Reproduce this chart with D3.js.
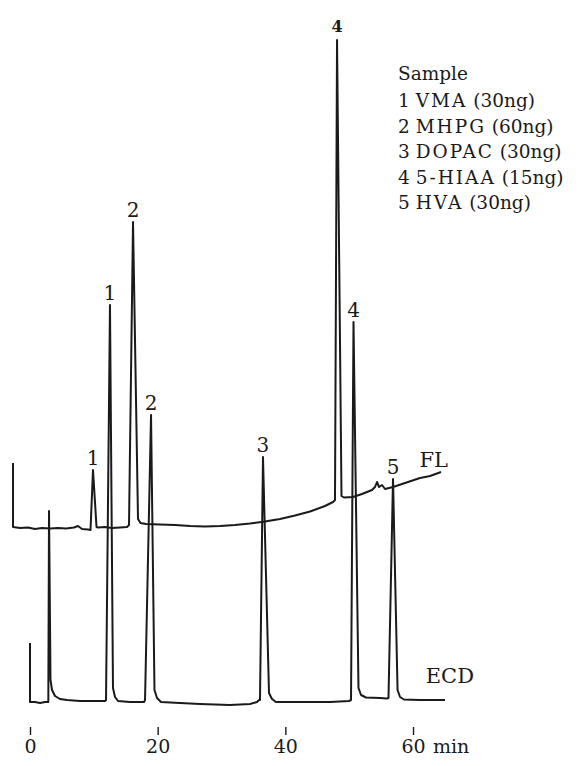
<!DOCTYPE html>
<html>
<head>
<meta charset="utf-8">
<script src="https://cdn.jsdelivr.net/npm/d3@7"></script>
<style>
  html, body { margin: 0; padding: 0; background: #fff; }
  svg { display: block; }
  text { font-family: "DejaVu Serif", "Liberation Serif", serif; fill: #1a1a1a; }
</style>
</head>
<body>
<svg id="chart" width="580" height="766"></svg>
<script>
// ---- Data (time in min, detector signal in arbitrary units) ----
const timeTicks = [0, 20, 40, 60];
const timeUnit = "min";

const ecdTime   = [0, 0, 0.78, 1.57, 2.35, 2.82, 2.87, 2.98, 3.21, 3.45, 3.92, 4.70, 5.80, 7.83, 10.18, 11.75,
                   11.91, 12.53, 13.00, 13.32, 13.79, 15.67, 17.86,
                   18.02, 18.96, 19.50, 19.90, 20.52, 23.50, 26.63, 31.33, 34.47, 35.56, 35.88,
                   36.03, 36.50, 37.44, 37.91, 38.54, 42.30, 47.00, 49.98,
                   50.29, 50.68, 51.46, 51.86, 52.64, 54.83, 55.93,
                   56.16, 56.87, 57.58, 57.97, 58.59, 61.10, 65.02];
const ecdSignal = [5.9, 0, 0, -0.1, 0, 0, 0, 19.1, 2.2, 1.2, 0.6, 0.3, 0.2, 0.1, 0.1, 0.1,
                   0.2, 39.7, 1.4, 0.5, 0.1, 0, 0,
                   0.2, 28.7, 1.2, 0.4, 0, -0.1, -0.2, -0.3, -0.2, 0, 0.2,
                   0.2, 24.5, 0.9, 0.3, 0, 0, 0, 0.1,
                   0.2, 38.0, 1.4, 0.7, 0.45, 0.4, 0.35,
                   0.4, 22.3, 1.2, 0.5, 0.25, 0.2, 0.2];

const flTime   = [-2.66, -2.66, -1.57, -0.31, 0.78, 1.88, 3.13, 4.39, 5.64, 6.89, 7.52, 8.15, 9.09,
                  9.48, 9.87, 10.42, 10.65, 11.75, 12.85, 14.10, 15.20,
                  15.51, 16.14, 16.92, 17.31, 18.17, 20.37, 22.72, 25.07, 27.42, 29.77, 32.12,
                  34.47, 36.82, 39.17, 41.52, 43.87, 46.22, 47.47,
                  47.78, 48.10, 48.80, 49.19, 50.60, 52.01, 53.58, 54.05, 54.36, 54.68, 55.15,
                  55.62, 56.87, 58.75, 61.10, 62.67, 64.39];
const flSignal = [23.9, 17.5, 17.4, 17.45, 17.3, 17.4, 17.35, 17.4, 17.35, 17.45, 17.6, 17.3, 17.25,
                  17.2, 23.2, 17.5, 17.45, 17.5, 17.4, 17.45, 17.5,
                  17.7, 48.0, 18.3, 17.9, 17.8, 17.75, 17.7, 17.6, 17.55, 17.6, 17.7,
                  17.85, 18.05, 18.3, 18.65, 19.05, 19.6, 20.0,
                  20.2, 66.2, 20.6, 20.45, 20.5, 20.8, 21.2, 21.5, 22.0, 21.5, 21.7,
                  21.3, 21.5, 21.9, 22.4, 22.6, 23.0];

// peak annotations: trace, peak number, apex time, apex signal
const peakTrace  = ["FL", "ECD", "FL", "ECD", "ECD", "FL", "ECD", "ECD"];
const peakNumber = ["1", "1", "2", "2", "3", "4", "4", "5"];
const peakTime   = [9.87, 12.53, 16.14, 18.96, 36.50, 48.10, 50.68, 56.87];
const peakSignal = [23.2, 39.7, 48.0, 28.7, 24.5, 66.2, 38.0, 22.3];

const legendTitle = "Sample";
const compoundIds = ["1", "2", "3", "4", "5"];
const compoundNames = ["VMA", "MHPG", "DOPAC", "5-HIAA", "HVA"];
const compoundAmounts = ["30ng", "60ng", "30ng", "15ng", "30ng"];

const traceNames = ["FL", "ECD"];
const traceLabelTime = [61.0, 62.0];
const traceLabelSignal = [23.5, 1.9];

// ---- Drawing ----
const svg = d3.select("#chart");
const x = d3.scaleLinear().domain([0, 60]).range([30, 413]);
const y = d3.scaleLinear().domain([0, 66.2]).range([702, 40]);

const line = d3.line().x(d => x(d[0])).y(d => y(d[1])).curve(d3.curveLinear);

const ecd = d3.zip(ecdTime, ecdSignal);
const fl = d3.zip(flTime, flSignal);

[fl, ecd].forEach(tr => {
  svg.append("path").datum(tr)
    .attr("d", line).attr("fill", "none")
    .attr("stroke", "#1a1a1a").attr("stroke-width", 2).attr("stroke-linejoin", "round");
});

// peak numbers
const isTop4 = i => peakNumber[i] === "4" && peakTrace[i] === "FL";
svg.append("g").selectAll("text")
  .data(d3.range(peakNumber.length))
  .join("text")
  .attr("x", i => x(peakTime[i]))
  .attr("y", i => y(peakSignal[i]) - (isTop4(i) ? 8 : 5))
  .attr("text-anchor", "middle")
  .attr("font-size", i => isTop4(i) ? 16 : 20)
  .attr("font-weight", i => isTop4(i) ? "bold" : "normal")
  .text(i => peakNumber[i]);

// trace names
svg.append("g").selectAll("text")
  .data(d3.range(traceNames.length))
  .join("text")
  .attr("x", i => x(traceLabelTime[i]))
  .attr("y", i => y(traceLabelSignal[i]))
  .attr("font-size", 21)
  .text(i => traceNames[i]);

// time axis (ticks only)
const axis = d3.axisBottom(x).tickValues(timeTicks).tickSize(8).tickFormat(d3.format("d"));
const gAxis = svg.append("g").attr("transform", "translate(0,727)").call(axis);
gAxis.select(".domain").remove();
gAxis.selectAll(".tick line").attr("stroke", "#1a1a1a").attr("stroke-width", 1.4);
gAxis.selectAll(".tick text")
  .attr("dy", null).attr("y", 26)
  .attr("font-size", 19).attr("font-family", "DejaVu Serif, serif").attr("fill", "#1a1a1a");
svg.append("text")
  .attr("x", x(60) + 20).attr("y", 753)
  .attr("font-size", 19)
  .text(timeUnit);

// legend
const legend = svg.append("g").attr("transform", "translate(398,80)");
legend.append("text").attr("x", 0).attr("y", 0).attr("font-size", 18.5).text(legendTitle);
const items = legend.selectAll("text.item")
  .data(d3.range(compoundIds.length))
  .join("text")
  .attr("class", "item")
  .attr("x", 0)
  .attr("y", i => 27.3 + i * 25.5)
  .attr("font-size", 18.5)
  .attr("xml:space", "preserve");
items.append("tspan").text(i => compoundIds[i] + " ");
items.append("tspan").attr("letter-spacing", 2).text(i => compoundNames[i]);
items.append("tspan").text(i => ` (${compoundAmounts[i]})`);
</script>
</body>
</html>
